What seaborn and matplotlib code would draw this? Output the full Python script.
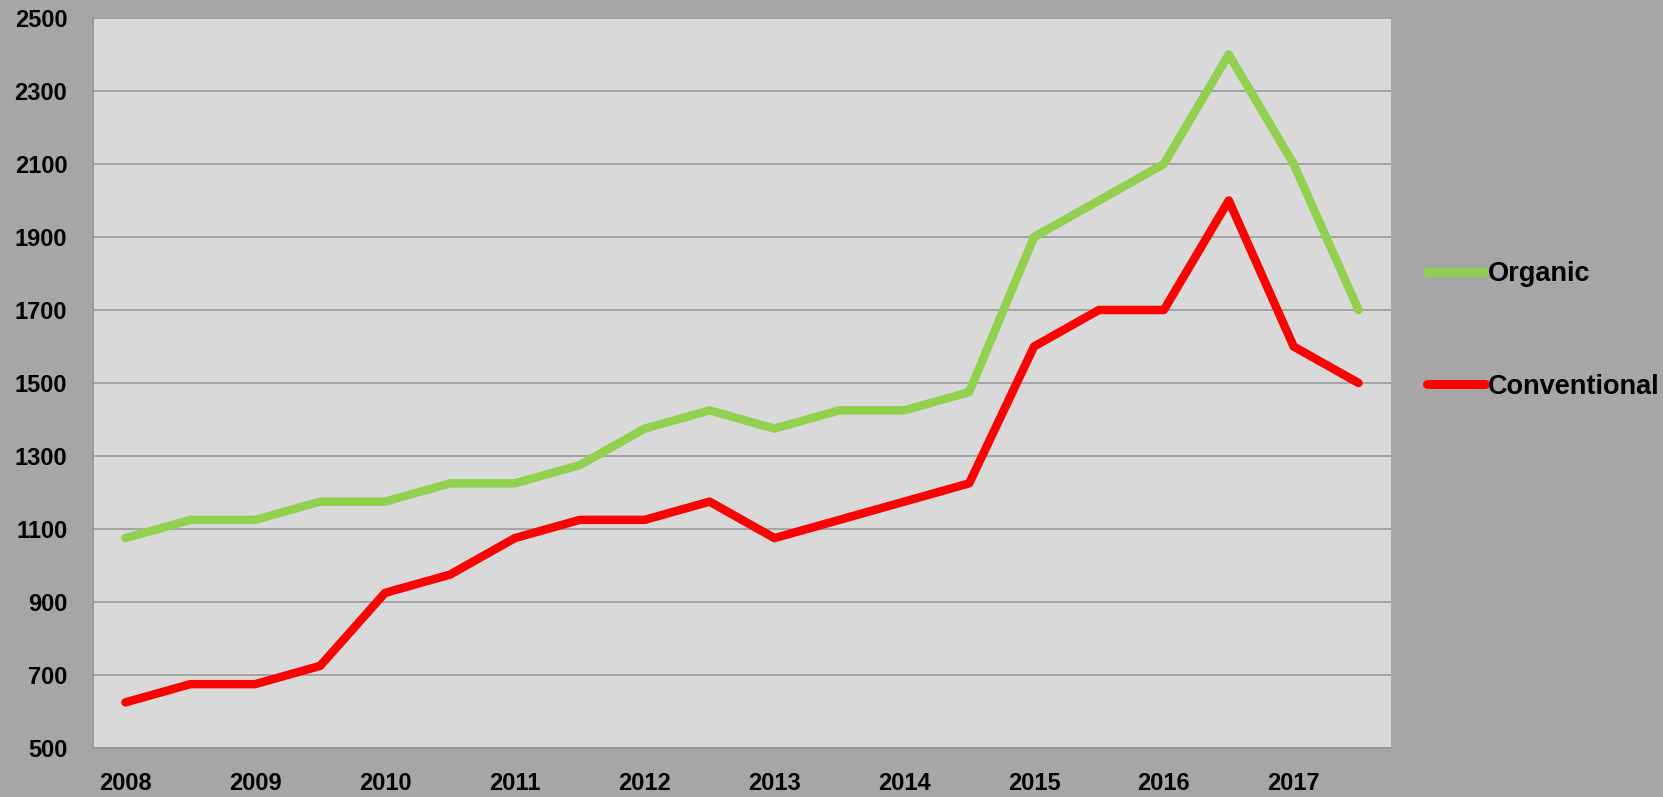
import numpy as np
import pandas as pd
import seaborn as sns
import matplotlib.pyplot as plt
from matplotlib.ticker import FixedLocator

# half-year periods, labelled on the first half of each year
years = ['2008', '2009', '2010', '2011', '2012', '2013', '2014', '2015', '2016', '2017']
organic = [1075, 1125, 1125, 1175, 1175, 1225, 1225, 1275, 1375, 1425,
           1375, 1425, 1425, 1475, 1900, 2000, 2100, 2400, 2100, 1700]
conventional = [625, 675, 675, 725, 925, 975, 1075, 1125, 1125, 1175,
                1075, 1125, 1175, 1225, 1600, 1700, 1700, 2000, 1600, 1500]
series_names = ['Organic', 'Conventional']
series_colors = ['#92D050', '#FF0000']

period = np.arange(len(organic))
df = pd.DataFrame({
    'period': np.concatenate([period, period]),
    'price': organic + conventional,
    'series': ['Organic'] * len(organic) + ['Conventional'] * len(conventional),
})

bg = '#A6A6A6'
sns.set_style('white', {'axes.facecolor': '#D9D9D9', 'figure.facecolor': bg})
plt.rcParams['font.family'] = ['Liberation Sans', 'DejaVu Sans']
plt.rcParams['text.color'] = 'black'
plt.rcParams['xtick.color'] = 'black'
plt.rcParams['ytick.color'] = 'black'

fig = plt.figure(figsize=(16.63, 7.97), dpi=100)
ax = fig.add_axes([93 / 1663, 1 - 748 / 797, (1391 - 93) / 1663, (748 - 18) / 797])

sns.lineplot(data=df, x='period', y='price', hue='series', hue_order=series_names,
             palette=series_colors, linewidth=6.1, ax=ax, legend=True)
for ln in ax.get_lines():
    ln.set_solid_capstyle('round')
    ln.set_solid_joinstyle('round')

ax.set_xlim(-0.5, len(organic) - 0.5)
ax.set_ylim(500, 2500)
ax.set_yticks(range(500, 2501, 200))
ax.yaxis.grid(True, color='#A0A0A0', linewidth=1.3)
ax.set_axisbelow(True)

ax.set_xticks(period[::2])
ax.set_xticklabels(years)
ax.xaxis.set_minor_locator(FixedLocator(np.arange(-0.5, len(organic), 1)))
ax.tick_params(axis='x', which='major', length=0, pad=17, labelsize=17, labelcolor='black')
ax.tick_params(axis='x', which='minor', length=8, width=1.3, color='#999999', direction='out')
ax.tick_params(axis='y', length=8, width=1.3, color='#999999', direction='out', pad=10.5,
               labelsize=17, labelcolor='black')
for lab in ax.get_xticklabels() + ax.get_yticklabels():
    lab.set_fontweight('bold')

for s in ['top', 'right']:
    ax.spines[s].set_visible(False)
for s in ['left', 'bottom']:
    ax.spines[s].set_color('#999999')
    ax.spines[s].set_linewidth(1.3)

ax.set_xlabel('')
ax.set_ylabel('')

handles, labels = ax.get_legend_handles_labels()
leg = ax.legend(handles, labels, loc='upper left', bbox_to_anchor=(1427 / 1663, 1 - 261 / 797),
                bbox_transform=fig.transFigure, frameon=False, handlelength=2.15, handletextpad=0.1,
                labelspacing=3.2, borderaxespad=0, borderpad=0,
                prop={'weight': 'bold', 'size': 19.5})
for t in leg.get_texts():
    t.set_color('black')
for h in leg.get_lines():
    h.set_linewidth(6.5)
    h.set_solid_capstyle('round')

fig.savefig('out.png', dpi=100, facecolor=bg)
